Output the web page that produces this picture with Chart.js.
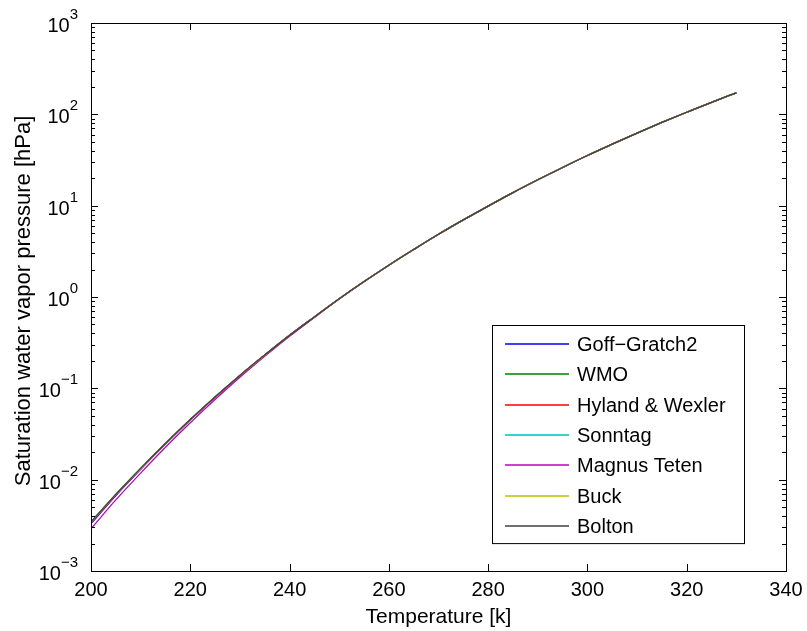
<!DOCTYPE html>
<html>
<head>
<meta charset="utf-8">
<script src="https://cdn.jsdelivr.net/npm/chart.js@4"></script>
<style>
  html, body { margin: 0; padding: 0; background: #fff; }
  #wrap { width: 807px; height: 631px; }
</style>
</head>
<body>
<div id="wrap"><canvas id="c" width="807" height="631"></canvas></div>
<script>
// temperatures [K]
const temps = [200, 205, 210, 215, 220, 225, 230, 235, 240, 245, 250, 255, 260, 265,
  270, 275, 280, 285, 290, 295, 300, 305, 310, 315, 320, 325, 330];

// saturation vapour pressure [hPa]
const goffGratch = [0.0033, 0.0067, 0.0130, 0.0245, 0.045, 0.080, 0.138, 0.231, 0.38, 0.605, 0.955, 1.475, 2.23, 3.31,
  4.86, 6.98, 9.9, 13.9, 19.2, 26.2, 35.4, 47.1, 62.3, 81.5, 105.4, 135.5, 172];
const wmo = [0.00345, 0.0069, 0.0133, 0.0249, 0.0455, 0.0805, 0.1385, 0.2315, 0.38, 0.605, 0.955, 1.475, 2.23, 3.31,
  4.86, 6.98, 9.9, 13.9, 19.2, 26.2, 35.4, 47.1, 62.3, 81.5, 105.4, 135.5, 172];
const hyland = [0.00338, 0.0068, 0.0131, 0.0247, 0.0452, 0.0802, 0.138, 0.231, 0.38, 0.605, 0.955, 1.475, 2.23, 3.31,
  4.86, 6.98, 9.9, 13.9, 19.2, 26.2, 35.4, 47.1, 62.3, 81.5, 105.4, 135.5, 172];
const sonntag = [0.00342, 0.0069, 0.0132, 0.0248, 0.0454, 0.0804, 0.1383, 0.2312, 0.38, 0.605, 0.955, 1.475, 2.23, 3.31,
  4.86, 6.98, 9.9, 13.9, 19.2, 26.2, 35.4, 47.1, 62.3, 81.5, 105.4, 135.5, 172];
const magnusTeten = [0.0029, 0.0060, 0.0118, 0.0226, 0.042, 0.0755, 0.132, 0.224, 0.372, 0.597, 0.95, 1.472, 2.23, 3.31,
  4.86, 6.98, 9.9, 13.9, 19.2, 26.2, 35.4, 47.1, 62.3, 81.5, 105.4, 135.5, 172];
const buck = [0.00343, 0.0069, 0.0132, 0.0248, 0.0453, 0.0803, 0.138, 0.231, 0.38, 0.605, 0.955, 1.475, 2.23, 3.31,
  4.86, 6.98, 9.9, 13.9, 19.2, 26.2, 35.4, 47.1, 62.3, 81.5, 105.4, 135.5, 172];
const bolton = [0.00346, 0.0069, 0.0133, 0.0249, 0.0455, 0.0805, 0.1385, 0.2315, 0.38, 0.605, 0.955, 1.475, 2.23, 3.31,
  4.86, 6.98, 9.9, 13.9, 19.2, 26.2, 35.4, 47.1, 62.3, 81.5, 105.4, 135.5, 172];

const seriesNames = ['Goff\u2212Gratch2', 'WMO', 'Hyland & Wexler', 'Sonntag', 'Magnus Teten', 'Buck', 'Bolton'];
const seriesData = [goffGratch, wmo, hyland, sonntag, magnusTeten, buck, bolton];
const seriesColors = ['#0000ff', '#008000', '#ff0000', '#00bfbf', '#bf00bf', '#bfbf00', '#404040'];

const xTicks = [200, 220, 240, 260, 280, 300, 320, 340];
const yExps = [-3, -2, -1, 0, 1, 2, 3];

const FONT = "'Liberation Sans', Arial, Helvetica, sans-serif";

// axes box, ticks, labels, legend (MATLAB look)
const matlabAxes = {
  id: 'matlabAxes',
  afterDraw(chart) {
    const { ctx, chartArea: a, scales } = chart;
    const xs = scales.x, ys = scales.y;
    ctx.save();
    ctx.strokeStyle = '#000';
    ctx.lineWidth = 1;
    ctx.beginPath();
    // x ticks, bottom and top
    xTicks.forEach((v) => {
      const px = Math.round(xs.getPixelForValue(v)) + 0.5;
      ctx.moveTo(px, a.bottom); ctx.lineTo(px, a.bottom - 7);
      ctx.moveTo(px, a.top); ctx.lineTo(px, a.top + 7);
    });
    // y ticks, major + minor, left and right
    yExps.forEach((e) => {
      for (let m = 1; m <= 9; m++) {
        if (e === 3 && m > 1) break;
        const py = Math.round(ys.getPixelForValue(m * Math.pow(10, e))) + 0.5;
        const len = m === 1 ? 7 : 4;
        ctx.moveTo(a.left, py); ctx.lineTo(a.left + len, py);
        ctx.moveTo(a.right, py); ctx.lineTo(a.right - len, py);
      }
    });
    ctx.stroke();
    ctx.strokeRect(Math.round(a.left) + 0.5, Math.round(a.top) + 0.5, Math.round(a.right - a.left), Math.round(a.bottom - a.top));

    // tick labels
    ctx.fillStyle = '#000';
    ctx.font = '20px ' + FONT;
    ctx.textAlign = 'center';
    ctx.textBaseline = 'top';
    xTicks.forEach((v) => ctx.fillText(String(v), xs.getPixelForValue(v), a.bottom + 9));
    yExps.forEach((e) => {
      const py = ys.getPixelForValue(Math.pow(10, e));
      const ex = String(e).replace('-', '\u2212');
      ctx.font = '15px ' + FONT;
      const ew = ctx.measureText(ex).width;
      const right = a.left - 13;
      ctx.textAlign = 'left';
      ctx.textBaseline = 'alphabetic';
      ctx.fillText(ex, right - ew, py - 4);
      ctx.font = '20px ' + FONT;
      ctx.textAlign = 'right';
      ctx.fillText('10', right - ew, py + 9);
    });

    // axis titles
    ctx.textAlign = 'center';
    ctx.textBaseline = 'middle';
    ctx.font = '21px ' + FONT;
    ctx.fillText('Temperature [k]', (a.left + a.right) / 2, 617);
    ctx.translate(24, (a.top + a.bottom) / 2 + 4);
    ctx.rotate(-Math.PI / 2);
    ctx.font = '22px ' + FONT;
    ctx.fillText('Saturation water vapor pressure [hPa]', 0, 0);
    ctx.restore();

    // legend
    ctx.save();
    const lx = 492, ly = 325, lw = 252, rowH = 30.3;
    const lh = rowH * seriesNames.length + 6;
    ctx.fillStyle = '#fff';
    ctx.fillRect(lx, ly, lw, lh);
    ctx.strokeStyle = '#000';
    ctx.lineWidth = 1;
    ctx.strokeRect(lx + 0.5, ly + 0.5, lw, lh);
    ctx.font = '20px ' + FONT;
    ctx.textAlign = 'left';
    ctx.textBaseline = 'middle';
    seriesNames.forEach((name, i) => {
      const cy = Math.round(ly + 19 + i * rowH);
      ctx.strokeStyle = seriesColors[i];
      ctx.lineWidth = 1.5;
      ctx.beginPath();
      ctx.moveTo(505, cy); ctx.lineTo(569, cy);
      ctx.stroke();
      ctx.fillStyle = '#000';
      ctx.fillText(name, 577, cy + 1);
    });
    ctx.restore();
  },
};

new Chart(document.getElementById('c'), {
  type: 'line',
  data: {
    datasets: seriesNames.map((name, i) => ({
      label: name,
      data: temps.map((t, j) => ({ x: t, y: seriesData[i][j] })),
      borderColor: seriesColors[i],
      borderWidth: 1.3,
      pointRadius: 0,
      fill: false,
      cubicInterpolationMode: 'monotone',
      order: seriesNames.length - i,
    })),
  },
  options: {
    responsive: false,
    animation: false,
    layout: { padding: { left: 91, right: 21, top: 23, bottom: 60 } },
    plugins: { legend: { display: false }, tooltip: { enabled: false } },
    scales: {
      x: { type: 'linear', min: 200, max: 340, display: false },
      y: { type: 'logarithmic', min: 0.001, max: 1000, display: false },
    },
  },
  plugins: [matlabAxes],
});
</script>
</body>
</html>
